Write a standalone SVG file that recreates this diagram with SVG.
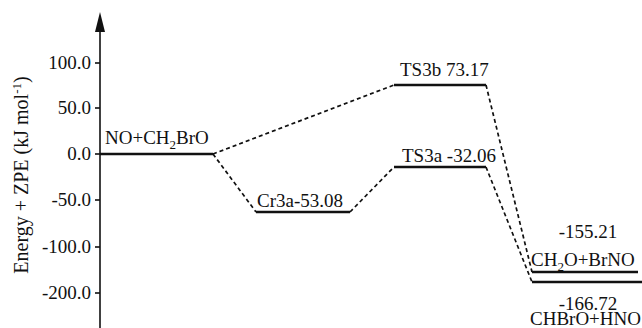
<svg xmlns="http://www.w3.org/2000/svg" width="642" height="328" viewBox="0 0 642 328">
<style>
.t{font-family:'Liberation Serif','DejaVu Serif',serif;font-size:19px;fill:#111}
.tick{text-anchor:end}
.lvl{stroke:#111;stroke-width:2.4;fill:none}
.dash{stroke:#111;stroke-width:1.7;stroke-dasharray:4 3;fill:none}
.ax{stroke:#111;stroke-width:1.6;fill:none}
</style>
<rect width="642" height="328" fill="#fff"/>
<g id="axis">
<line class="ax" x1="100" y1="26" x2="100" y2="328"/>
<polygon points="100,12 95,32 105,32" fill="#111"/>
<line class="ax" x1="95" y1="63" x2="100" y2="63"/>
<line class="ax" x1="95" y1="108" x2="100" y2="108"/>
<line class="ax" x1="95" y1="154" x2="100" y2="154"/>
<line class="ax" x1="95" y1="200" x2="100" y2="200"/>
<line class="ax" x1="95" y1="247" x2="100" y2="247"/>
<line class="ax" x1="95" y1="293" x2="100" y2="293"/>
<text class="t tick" x="91" y="69" font-family="Liberation Serif, serif">100.0</text>
<text class="t tick" x="91" y="114" font-family="Liberation Serif, serif">50.0</text>
<text class="t tick" x="91" y="160" font-family="Liberation Serif, serif">0.0</text>
<text class="t tick" x="91" y="206" font-family="Liberation Serif, serif">-50.0</text>
<text class="t tick" x="91" y="253" font-family="Liberation Serif, serif">-100.0</text>
<text class="t tick" x="91" y="299" font-family="Liberation Serif, serif">-200.0</text>
<text class="t" transform="translate(28,175) rotate(-90)" text-anchor="middle" style="font-size:20px">Energy + ZPE (kJ mol<tspan dy="-7" style="font-size:13px">-1</tspan><tspan dy="7">)</tspan></text>
</g>
<g id="connectors">
<line class="dash" x1="213" y1="154" x2="256" y2="212"/>
<line class="dash" x1="213" y1="154" x2="394" y2="85"/>
<line class="dash" x1="350" y1="212" x2="394" y2="167"/>
<line class="dash" x1="486" y1="85" x2="532" y2="272"/>
<line class="dash" x1="486" y1="167" x2="532" y2="282"/>
</g>
<g id="reactant">
<line class="lvl" x1="100" y1="154" x2="213" y2="154"/>
<text class="t" x="105" y="144">NO+CH<tspan dy="5" style="font-size:13px">2</tspan><tspan dy="-5">BrO</tspan></text>
</g>
<g id="Cr3a">
<line class="lvl" x1="256" y1="212" x2="350" y2="212"/>
<text class="t" x="257" y="207">Cr3a-53.08</text>
</g>
<g id="TS3b">
<line class="lvl" x1="394" y1="85" x2="486" y2="85"/>
<text class="t" x="400" y="76">TS3b 73.17</text>
</g>
<g id="TS3a">
<line class="lvl" x1="394" y1="167" x2="486" y2="167"/>
<text class="t" x="402" y="162">TS3a -32.06</text>
</g>
<g id="P1">
<line class="lvl" x1="532" y1="272" x2="638" y2="272"/>
<text class="t" x="588" y="238" text-anchor="middle">-155.21</text>
<text class="t" x="531" y="266">CH<tspan dy="5" style="font-size:13px">2</tspan><tspan dy="-5">O+BrNO</tspan></text>
</g>
<g id="P2">
<line class="lvl" x1="532" y1="282" x2="642" y2="282"/>
<text class="t" x="588" y="310" text-anchor="middle">-166.72</text>
<text class="t" x="530" y="325">CHBrO+HNO</text>
</g>
</svg>
